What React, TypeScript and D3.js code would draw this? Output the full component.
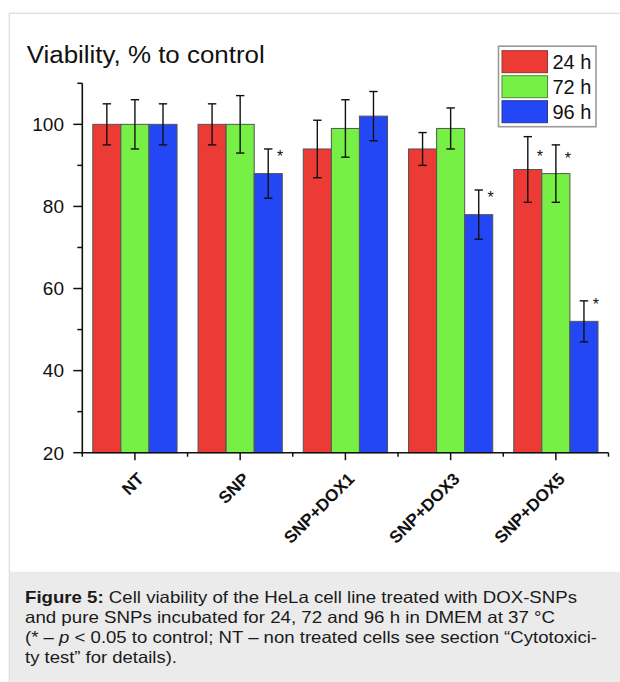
import React from 'react';
import * as d3 from 'd3';

const categories = ['NT', 'SNP', 'SNP+DOX1', 'SNP+DOX3', 'SNP+DOX5'];
const seriesNames = ['24 h', '72 h', '96 h'];
const values24 = [100, 100, 94, 94, 89];
const values72 = [100, 100, 99, 99, 88];
const values96 = [100, 88, 102, 78, 52];
const err24 = [5, 5, 7, 4, 8];
const err72 = [6, 7, 7, 5, 7];
const err96 = [5, 6, 6, 6, 5];
const star24: (number | null)[] = [null, null, null, null, 93];
const star72: (number | null)[] = [null, null, null, null, 92.5];
const star96: (number | null)[] = [null, 93, null, 83, 57];
const yMajorTicks = [20, 40, 60, 80, 100];
const yMinorTicks = [30, 50, 70, 90, 110];
const yDomain = [20, 110];
const titleText = 'Viability, % to control';

const seriesValues = [values24, values72, values96];
const seriesErr = [err24, err72, err96];
const seriesStars = [star24, star72, star96];
const colors = ['#EC3A35', '#76F044', '#2347F5'];
const strokes = ['#8a3a36', '#4f8a3a', '#2a3a8a'];

const FONT = "'Liberation Sans', Arial, Helvetica, sans-serif";

export default function App() {
  const x = d3.scaleBand<string>().domain(categories).range([82.3, 608.5]).paddingInner(0).paddingOuter(0);
  const bw = x.bandwidth();
  const xs = d3.scaleBand<string>().domain(seriesNames).range([10.5, bw - 10.5]).padding(0);
  const y = d3.scaleLinear().domain(yDomain).range([452.7, 83.3]);
  const axisX = 82.3;
  const baseY = y(yDomain[0]);
  const boundaries = categories.map((c) => x(c)!).concat([x(categories[categories.length - 1])! + bw]);

  return (
    <svg width={620} height={682} style={{ position: 'absolute', left: 0, top: 0, background: '#fff' }} fontFamily={FONT}>
      {/* frame */}
      <rect x={9.3} y={13.3} width={640} height={700} fill="#fff" stroke="#dcdcdc" strokeWidth={1.2} />
      <rect x={9.9} y={571.7} width={620} height={120} fill="#ebebeb" />

      {/* title */}
      <text x={26.7} y={63.3} fontSize={23.5} textLength={238} lengthAdjust="spacingAndGlyphs" fill="#111">{titleText}</text>

      {/* bars */}
      {seriesNames.map((s, si) =>
        categories.map((c, ci) => {
          const v = seriesValues[si][ci];
          const bx = x(c)! + xs(s)!;
          return (
            <rect key={`b-${si}-${ci}`} x={bx} y={y(v)} width={xs.bandwidth()} height={baseY - y(v)}
              fill={colors[si]} stroke="#555" strokeWidth={1} />
          );
        })
      )}

      {/* error bars */}
      {seriesNames.map((s, si) =>
        categories.map((c, ci) => {
          const v = seriesValues[si][ci];
          const e = seriesErr[si][ci];
          const cx = x(c)! + xs(s)! + xs.bandwidth() / 2;
          const y1 = y(v + e);
          const y2 = y(v - e);
          return (
            <g key={`e-${si}-${ci}`} stroke="#111" strokeWidth={1.4}>
              <line x1={cx} x2={cx} y1={y1} y2={y2} />
              <line x1={cx - 4.2} x2={cx + 4.2} y1={y1} y2={y1} />
              <line x1={cx - 4.2} x2={cx + 4.2} y1={y2} y2={y2} />
            </g>
          );
        })
      )}

      {/* significance stars */}
      {seriesNames.map((s, si) =>
        categories.map((c, ci) => {
          const sv = seriesStars[si][ci];
          if (sv == null) return null;
          const cx = x(c)! + xs(s)! + xs.bandwidth() / 2;
          return (
            <text key={`s-${si}-${ci}`} x={cx + 12} y={y(sv) + 9} fontSize={16} textAnchor="middle" fill="#111">*</text>
          );
        })
      )}

      {/* y axis */}
      <line x1={axisX} x2={axisX} y1={y(yDomain[0]) + 0.8} y2={y(yDomain[1])} stroke="#111" strokeWidth={1.6} />
      {yMajorTicks.map((t) => (
        <g key={`ym-${t}`}>
          <line x1={axisX - 9} x2={axisX} y1={y(t)} y2={y(t)} stroke="#111" strokeWidth={1.5} />
          <text x={64} y={y(t)} dy="0.36em" textAnchor="end" fontSize={19} fill="#111">{t}</text>
        </g>
      ))}
      {yMinorTicks.map((t) => (
        <line key={`yn-${t}`} x1={axisX - 5} x2={axisX} y1={y(t)} y2={y(t)} stroke="#111" strokeWidth={1.5} />
      ))}

      {/* x axis */}
      <line x1={axisX - 0.8} x2={boundaries[boundaries.length - 1]} y1={baseY} y2={baseY} stroke="#111" strokeWidth={1.6} />
      {boundaries.map((b, i) => (
        <line key={`xb-${i}`} x1={b} x2={b} y1={baseY} y2={baseY + 4} stroke="#111" strokeWidth={1.5} />
      ))}
      {categories.map((c) => {
        const cx = x(c)! + bw / 2;
        return (
          <g key={`xl-${c}`}>
            <line x1={cx} x2={cx} y1={baseY} y2={baseY + 7.5} stroke="#111" strokeWidth={1.5} />
            <text transform={`translate(${cx + 10},${480}) rotate(-45)`} textAnchor="end" fontSize={17} fontWeight="bold" fill="#111">{c}</text>
          </g>
        );
      })}

      {/* legend */}
      <rect x={498.5} y={46.2} width={97.5} height={80.5} fill="#fff" stroke="#9a9a9a" strokeWidth={1.6} />
      {seriesNames.map((s, si) => (
        <g key={`lg-${s}`}>
          <rect x={502} y={50.7 + si * 25} width={45.5} height={22} fill={colors[si]} stroke={strokes[si]} strokeWidth={1} />
          <text x={552.5} y={69 + si * 25} fontSize={20} fill="#111">{s}</text>
        </g>
      ))}

      {/* caption */}
      <g fontSize={16.5} fill="#1a1a1a">
        <text x={25} y={602.7} textLength={552} lengthAdjust="spacingAndGlyphs">
          <tspan fontWeight="bold">Figure 5:</tspan> Cell viability of the HeLa cell line treated with DOX-SNPs
        </text>
        <text x={25} y={622.9} textLength={530} lengthAdjust="spacingAndGlyphs">
          and pure SNPs incubated for 24, 72 and 96 h in DMEM at 37 °C
        </text>
        <text x={25} y={643.1} textLength={572} lengthAdjust="spacingAndGlyphs">
          (* – <tspan fontStyle="italic">p</tspan> &lt; 0.05 to control; NT – non treated cells see section “Cytotoxici-
        </text>
        <text x={25} y={663.3} textLength={152} lengthAdjust="spacingAndGlyphs">
          ty test” for details).
        </text>
      </g>
    </svg>
  );
}
